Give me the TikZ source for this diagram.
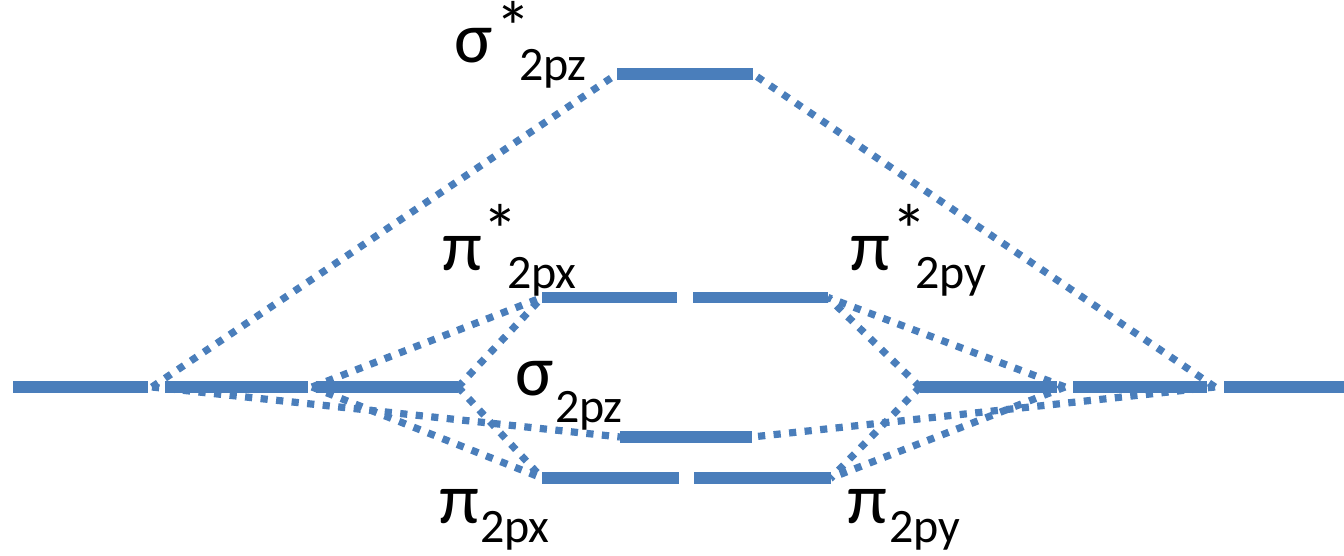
\documentclass[tikz,border=0pt]{standalone}
\usepackage{fontspec}
\setmainfont{Carlito}
\definecolor{mo}{HTML}{4A7EBB}
\begin{document}
\begin{tikzpicture}[x=0.5pt,y=-0.5pt,
  bar/.style={draw=mo,line width=5.8pt,line cap=butt},
  dotline/.style={draw=mo,line width=3.6pt,line cap=butt,dash pattern=on 3.6pt off 4.2pt},
  lbl/.style={inner sep=0pt,outer sep=0pt,anchor=base west,font=\fontsize{36}{40}\selectfont},
  sub/.style={inner sep=0pt,outer sep=0pt,anchor=base west,font=\fontsize{24}{28}\selectfont},
  star/.style={inner sep=0pt,outer sep=0pt,anchor=base west,font=\fontsize{36}{40}\selectfont}]
\useasboundingbox (0,0) rectangle (1344,556);
% atomic orbital bars, left
\coordinate (a1s) at (13,387);  \coordinate (a1e) at (148,387);
\coordinate (a2s) at (165,387); \coordinate (a2e) at (308,387);
\coordinate (a3s) at (316,387); \coordinate (a3e) at (458,387);
% right
\coordinate (b1s) at (920,387);  \coordinate (b1e) at (1057,387);
\coordinate (b2s) at (1073,387); \coordinate (b2e) at (1207,387);
\coordinate (b3s) at (1224,387); \coordinate (b3e) at (1344,387);
% molecular orbital bars
\coordinate (ss) at (617,74);   \coordinate (se) at (753,74);
\coordinate (pxs) at (542,297.5); \coordinate (pxe) at (677,297.5);
\coordinate (pys) at (693,297.5); \coordinate (pye) at (828,297.5);
\coordinate (bs) at (620,437);  \coordinate (be) at (752,437);
\coordinate (qxs) at (542,478); \coordinate (qxe) at (679,478);
\coordinate (qys) at (694,478); \coordinate (qye) at (831,478);
% connection points
\coordinate (L1) at (152,387); \coordinate (L2) at (312,387); \coordinate (L3) at (458,387);
\coordinate (R1) at (920,387); \coordinate (R2) at (1065,387); \coordinate (R3) at (1215,387);

\foreach \s/\e in {a1s/a1e,a2s/a2e,a3s/a3e,b1s/b1e,b2s/b2e,b3s/b3e,ss/se,pxs/pxe,pys/pye,bs/be,qxs/qxe,qys/qye}
  \draw[bar] (\s) -- (\e);

\draw[dotline] (L1) -- (ss);
\draw[dotline] (L1) -- (bs);
\draw[dotline] (L2) -- (pxs);
\draw[dotline] (L2) -- (qxs);
\draw[dotline] (L3) -- (pxs);
\draw[dotline] (L3) -- (qxs);
\draw[dotline] (R3) -- (se);
\draw[dotline] (R3) -- (be);
\draw[dotline] (R2) -- (pye);
\draw[dotline] (R2) -- (qye);
\draw[dotline] (R1) -- (pye);
\draw[dotline] (R1) -- (qye);

% labels
\node[lbl] (t1) at (454,63) {σ};
\node[star] (t1s) at (495,53) {*};
\node[sub] (t1b) at (519,81) {2pz};
\node[lbl] (t2) at (442,270) {π};
\node[star] (t2s) at (482,255) {*};
\node[sub] (t2b) at (507,288) {2px};
\node[lbl] (t3) at (850,270) {π};
\node[star] (t3s) at (891,255) {*};
\node[sub] (t3b) at (915,288) {2py};
\node[lbl] (t4) at (515,395) {σ};
\node[sub] (t4b) at (555,422) {2pz};
\node[lbl] (t5) at (439,523) {π};
\node[sub] (t5b) at (480,542) {2px};
\node[lbl] (t6) at (847,523) {π};
\node[sub] (t6b) at (889,542) {2py};
\end{tikzpicture}
\end{document}
